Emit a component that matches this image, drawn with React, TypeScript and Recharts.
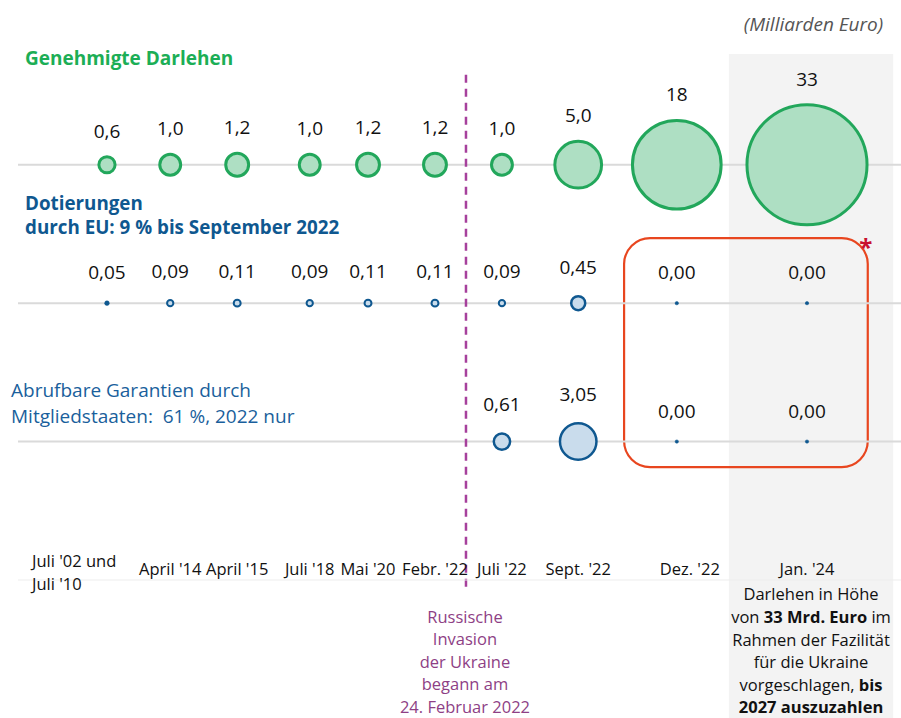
import React from "react";
import {
  ReferenceArea,
  ReferenceLine,
  Scatter,
  ScatterChart,
  XAxis,
  YAxis,
  ZAxis,
} from "recharts";

document.body.style.margin = "0";

// categories on the time line (not evenly spaced in the original)
const dates = [
  "Juli '02 und\nJuli '10",
  "April '14",
  "April '15",
  "Juli '18",
  "Mai '20",
  "Febr. '22",
  "Juli '22",
  "Sept. '22",
  "Dez. '22",
  "Jan. '24",
];
const slots = [0, 1.02, 2.1, 3.27, 4.21, 5.29, 6.37, 7.6, 9.19, 11.29];

// Milliarden Euro
const loans = [0.6, 1.0, 1.2, 1.0, 1.2, 1.2, 1.0, 5.0, 18, 33];
const grants = [0.05, 0.09, 0.11, 0.09, 0.11, 0.11, 0.09, 0.45, 0, 0];
const guarantees = [null, null, null, null, null, null, 0.61, 3.05, 0, 0];

const ROW_LOANS = 3;
const ROW_GRANTS = 2;
const ROW_GUAR = 1;
const INVASION_X = 5.79;
const FACILITY_X = [10.03, 12.68];

const GREEN = "#22a75b";
const GREEN_FILL = "#aedfc3";
const GREEN_TEXT = "#1cae56";
const BLUE = "#0f5890";
const BLUE_FILL = "#c9dcec";
const BLUE_TEXT = "#1a5f9c";
const PURPLE = "#a6409c";
const PURPLE_TEXT = "#8e3f85";
const ROW_LINE = "#dadada";
const BAND = "#f3f3f3";
const RED = "#e8461f";
const FONT = "'Open Sans', sans-serif";

const fmt1 = (v: number) => (v < 10 ? v.toFixed(1) : v.toFixed(0)).replace(".", ",");
const fmt2 = (v: number) => v.toFixed(2).replace(".", ",");

const toPoints = (values: (number | null)[], row: number) =>
  values
    .map((v, i) => (v === null ? null : { x: slots[i], y: row, z: v }))
    .filter((d) => d !== null);

const makeBubble =
  (stroke: string, fill: string, width: number, fmt: (v: number) => string, lift: number) =>
  (p: any) => {
    const rr = p.size ? Math.sqrt(p.size / Math.PI) : (p.width || 0) / 2;
    const r = Math.max(rr, 1.7);
    const solid = r < 2.6;
    return (
      <g>
        <circle
          cx={p.cx}
          cy={p.cy}
          r={r}
          fill={solid ? stroke : fill}
          stroke={stroke}
          strokeWidth={solid ? 0.5 : r < 5 ? 2 : width}
        />
        <text
          x={p.cx}
          y={p.cy - r - lift}
          textAnchor="middle"
          fontSize={19}
          fontFamily={FONT}
          fill="#111"
        >
          {fmt(p.payload.z)}
        </text>
      </g>
    );
  };

const DateTick = (p: any) => {
  const i = slots.indexOf(p.payload.value);
  if (i < 0) return null;
  const lines = dates[i].split("\n");
  if (lines.length > 1) {
    return (
      <text y={p.y - 13} fontSize={16.5} fontFamily={FONT} fill="#111">
        <tspan x={p.x - 75}>{lines[0]}</tspan>
        <tspan x={p.x - 75} dy={23}>{lines[1]}</tspan>
      </text>
    );
  }
  const nudge = i === 8 ? 13 : 0;
  return (
    <text x={p.x + nudge} y={p.y - 5} textAnchor="middle" fontSize={16.5} fontFamily={FONT} fill="#111">
      {lines[0]}
    </text>
  );
};

const LoansTitle = ({ viewBox }: any) => (
  <text x={viewBox.x + 7} y={viewBox.y - 100} fontSize={19} fontWeight="bold" fontFamily={FONT} fill={GREEN_TEXT}>
    Genehmigte Darlehen
  </text>
);

const GrantsTitle = ({ viewBox }: any) => (
  <g fontSize={18.8} fontWeight="bold" fontFamily={FONT} fill={BLUE}>
    <text x={viewBox.x + 7} y={viewBox.y - 93}>Dotierungen</text>
    <text x={viewBox.x + 7} y={viewBox.y - 69}>durch EU: 9 % bis September 2022</text>
  </g>
);

const GuarTitle = ({ viewBox }: any) => (
  <g fontSize={19} fontFamily={FONT} fill={BLUE_TEXT}>
    <text x={viewBox.x - 7} y={viewBox.y - 45}>Abrufbare Garantien durch</text>
    <text x={viewBox.x - 7} y={viewBox.y - 19} xmlSpace="preserve" style={{ whiteSpace: "pre" }}>
      {"Mitgliedstaaten:  61 %, 2022 nur"}
    </text>
  </g>
);

const InvasionNote = ({ viewBox }: any) => {
  const lines = ["Russische", "Invasion", "der Ukraine", "begann am", "24. Februar 2022"];
  const bottom = viewBox.y + viewBox.height;
  return (
    <g textAnchor="middle" fontSize={16.5} fontFamily={FONT} fill={PURPLE_TEXT}>
      {lines.map((l, i) => (
        <text key={l} x={viewBox.x - 1} y={bottom + 33 + i * 22.6}>
          {l}
        </text>
      ))}
    </g>
  );
};

const FacilityNote = ({ viewBox }: any) => {
  const cx = viewBox.x + viewBox.width / 2;
  const b = viewBox.y + viewBox.height - 118;
  const f = { fontSize: 16.5, fontFamily: FONT, fill: "#111", textAnchor: "middle" as const };
  return (
    <g>
      <text x={viewBox.x + viewBox.width - 10} y={viewBox.y - 23} textAnchor="end" fontSize={19}
        fontStyle="italic" fontFamily={FONT} fill="#555">
        (Milliarden Euro)
      </text>
      <text {...f} x={cx} y={b}>Darlehen in Höhe</text>
      <text {...f} x={cx} y={b + 22.6}>
        von <tspan fontWeight="bold">33 Mrd. Euro</tspan> im
      </text>
      <text {...f} x={cx} y={b + 45.2}>Rahmen der Fazilität</text>
      <text {...f} x={cx} y={b + 67.8}>für die Ukraine</text>
      <text {...f} x={cx} y={b + 90.4}>
        vorgeschlagen, <tspan fontWeight="bold">bis</tspan>
      </text>
      <text {...f} x={cx} y={b + 113} fontWeight="bold">2027 auszuzahlen</text>
    </g>
  );
};

const RedBox = (p: any) => (
  <g>
    <rect x={p.x} y={p.y} width={p.width} height={p.height} rx={26} ry={26}
      fill="none" stroke={RED} strokeWidth={2.2} />
    <text x={p.x + p.width - 2} y={p.y + 18} textAnchor="middle" fontSize={24}
      fontWeight="bold" fontFamily={FONT} fill="#c8102e">
      *
    </text>
  </g>
);

export default function App() {
  return (
    <ScatterChart
      width={901}
      height={718}
      margin={{ top: 54, right: 0, bottom: 108, left: 18 }}
    >
      <XAxis
        type="number"
        dataKey="x"
        domain={[-1.435, 12.806]}
        ticks={slots}
        interval={0}
        allowDataOverflow
        tick={<DateTick />}
        tickLine={false}
        tickSize={0}
        tickMargin={0}
        height={30}
        axisLine={{ stroke: "#ededed" }}
      />
      <YAxis type="number" dataKey="y" domain={[0, 3.8]} hide allowDataOverflow />
      <ZAxis type="number" dataKey="z" domain={[0, 33]} range={[0, 11322]} />

      <ReferenceArea
        x1={FACILITY_X[0]}
        x2={FACILITY_X[1]}
        y1={-1}
        y2={3.8}
        ifOverflow="visible"
        fill={BAND}
        fillOpacity={1}
        stroke="none"
        label={FacilityNote}
      />

      <ReferenceLine y={ROW_LOANS} stroke={ROW_LINE} strokeWidth={2} label={LoansTitle} />
      <ReferenceLine y={ROW_GRANTS} stroke={ROW_LINE} strokeWidth={2} label={GrantsTitle} />
      <ReferenceLine y={ROW_GUAR} stroke={ROW_LINE} strokeWidth={2} label={GuarTitle} />

      <ReferenceLine
        segment={[
          { x: INVASION_X, y: 3.65 },
          { x: INVASION_X, y: -0.07 },
        ]}
        ifOverflow="visible"
        stroke={PURPLE}
        strokeWidth={2.5}
        strokeDasharray="8 6"
        label={InvasionNote}
      />

      <Scatter
        data={toPoints(loans, ROW_LOANS)}
        shape={makeBubble(GREEN, GREEN_FILL, 3, fmt1, 19)}
        isAnimationActive={false}
      />
      <Scatter
        data={toPoints(grants, ROW_GRANTS)}
        shape={makeBubble(BLUE, BLUE_FILL, 2.5, fmt2, 22)}
        isAnimationActive={false}
      />
      <Scatter
        data={toPoints(guarantees, ROW_GUAR)}
        shape={makeBubble(BLUE, BLUE_FILL, 2.5, fmt2, 22)}
        isAnimationActive={false}
      />

      <ReferenceArea x1={8.34} x2={12.27} y1={0.816} y2={2.47} shape={RedBox} />
    </ScatterChart>
  );
}
